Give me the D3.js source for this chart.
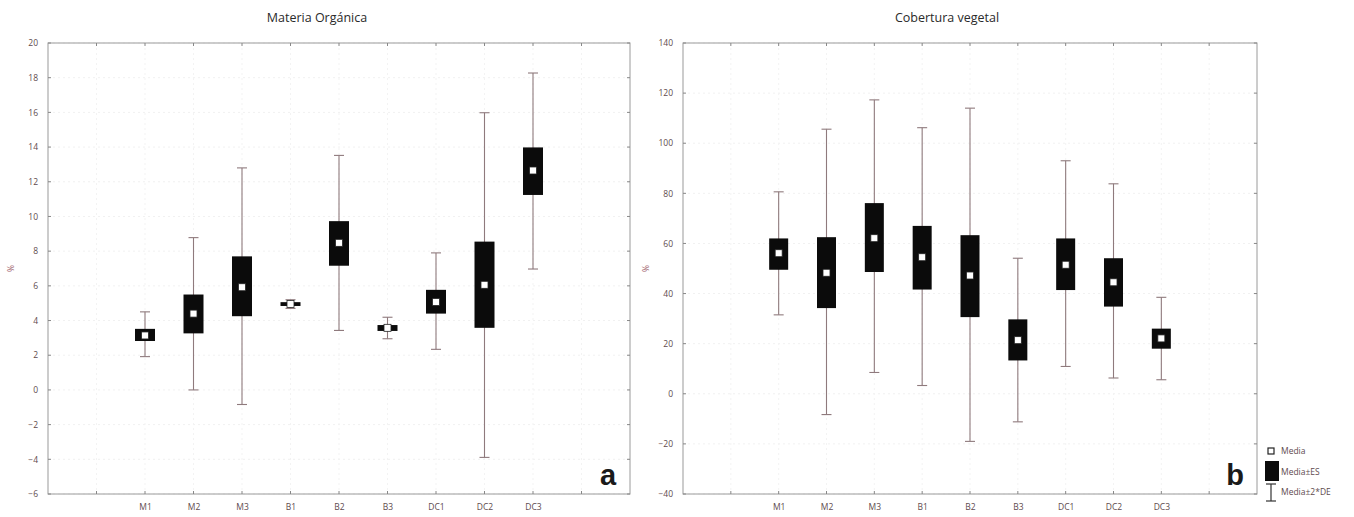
<!DOCTYPE html>
<html>
<head>
<meta charset="utf-8">
<script src="https://cdn.jsdelivr.net/npm/d3@7"></script>
<style>
  html, body { margin: 0; padding: 0; background: #fff; }
  svg text { font-family: "Open Sans", "Liberation Sans", sans-serif; }
</style>
</head>
<body>
<svg id="chart" width="1354" height="517"></svg>
<script>
// Sampling sites (same order in both panels)
const categories = ["M1", "M2", "M3", "B1", "B2", "B3", "DC1", "DC2", "DC3"];

// Materia orgánica (%): mean, mean±SE box, mean±2*SD whiskers
const moMean   = [3.14, 4.40, 5.92, 4.95, 8.48, 3.58, 5.07, 6.06, 12.65];
const moSeLow  = [2.82, 3.26, 4.25, 4.84, 7.16, 3.40, 4.40, 3.58, 11.24];
const moSeHigh = [3.52, 5.50, 7.70, 5.06, 9.73, 3.74, 5.77, 8.55, 13.98];
const moSdLow  = [1.92, 0.00, -0.84, 4.70, 3.43, 2.95, 2.34, -3.89, 6.97];
const moSdHigh = [4.50, 8.78, 12.80, 5.20, 13.52, 4.19, 7.90, 15.98, 18.27];
const moTicks  = [-6, -4, -2, 0, 2, 4, 6, 8, 10, 12, 14, 16, 18, 20];

// Cobertura vegetal (%)
const cvMean   = [56.1, 48.3, 62.1, 54.5, 47.2, 21.4, 51.5, 44.5, 22.1];
const cvSeLow  = [49.5, 34.2, 48.6, 41.6, 30.6, 13.3, 41.4, 34.8, 18.0];
const cvSeHigh = [62.0, 62.5, 76.1, 67.0, 63.3, 29.7, 62.0, 54.1, 26.0];
const cvSdLow  = [31.5, -8.3, 8.5, 3.3, -19.0, -11.2, 10.9, 6.3, 5.6];
const cvSdHigh = [80.6, 105.6, 117.3, 106.2, 114.0, 54.1, 93.0, 83.8, 38.5];
const cvTicks  = [-40, -20, 0, 20, 40, 60, 80, 100, 120, 140];

const legendLabels = ["Media", "Media±ES", "Media±2*DE"];

const svg = d3.select("#chart");
const labelColor = "#5e4a4e";
const whiskerColor = "#8f7a7d";
const frameColor = "#9a9a9a";

function panel(opts) {
  const { x0, x1, y0, y1, domain, ticks, title, titleX, letter,
          mean, seLo, seHi, sdLo, sdHi, boxW } = opts;
  const g = svg.append("g");
  // Category slots 1..11 on a 0..12 scale; sites occupy slots 2..10
  const x = d3.scaleLinear().domain([0, 12]).range([x0, x1]);
  const y = d3.scaleLinear().domain(domain).range([y1, y0]);
  const slot = i => x(i + 2);

  // faint grid
  g.append("g").selectAll("line").data(ticks).join("line")
    .attr("x1", x0).attr("x2", x1)
    .attr("y1", d => y(d)).attr("y2", d => y(d))
    .attr("stroke", "#f1f1f1").attr("stroke-dasharray", "2,3");
  g.append("g").selectAll("line").data(d3.range(1, 12)).join("line")
    .attr("x1", d => x(d)).attr("x2", d => x(d))
    .attr("y1", y0).attr("y2", y1)
    .attr("stroke", "#f3f3f3").attr("stroke-dasharray", "2,3");

  // axes (labels only; ticks drawn inward on the frame)
  const yAxis = d3.axisLeft(y).tickValues(ticks).tickSize(0).tickPadding(10);
  const ya = g.append("g").attr("transform", `translate(${x0},0)`).call(yAxis);
  ya.select(".domain").remove();
  ya.selectAll("text").attr("fill", labelColor).style("font-size", "8.5px");

  const xAxis = d3.axisBottom(x).tickValues(d3.range(2, 11))
    .tickFormat(d => categories[d - 2]).tickSize(0).tickPadding(10);
  const xa = g.append("g").attr("transform", `translate(0,${y1})`).call(xAxis);
  xa.select(".domain").remove();
  xa.selectAll("text").attr("fill", labelColor).style("font-size", "8.5px");

  // frame
  g.append("rect").attr("x", x0).attr("y", y0)
    .attr("width", x1 - x0).attr("height", y1 - y0)
    .attr("fill", "none").attr("stroke", frameColor).attr("stroke-width", 1);
  const tk = g.append("g").attr("stroke", "#888").attr("stroke-width", 1);
  d3.range(1, 12).forEach(d => {
    tk.append("line").attr("x1", x(d)).attr("x2", x(d)).attr("y1", y1).attr("y2", y1 - 3);
    tk.append("line").attr("x1", x(d)).attr("x2", x(d)).attr("y1", y0).attr("y2", y0 + 3);
  });
  ticks.forEach(d => {
    tk.append("line").attr("x1", x0).attr("x2", x0 + 3).attr("y1", y(d)).attr("y2", y(d));
    tk.append("line").attr("x1", x1).attr("x2", x1 - 3).attr("y1", y(d)).attr("y2", y(d));
  });

  // y-axis unit label
  g.append("text")
    .attr("transform", `translate(${x0 - 34},${(y0 + y1) / 2}) rotate(-90)`)
    .attr("text-anchor", "middle").attr("fill", "#9a5a66")
    .style("font-size", "8.5px").text("%");

  // title
  g.append("text").attr("x", titleX).attr("y", 22)
    .attr("text-anchor", "middle").attr("fill", "#2a2a2a")
    .style("font-size", "12.5px").text(title);

  // whiskers (mean ± 2 SD)
  const capW = 10;
  const w = g.append("g").attr("stroke", whiskerColor).attr("stroke-width", 1.1);
  categories.forEach((c, i) => {
    const cx = slot(i);
    w.append("line").attr("x1", cx).attr("x2", cx)
      .attr("y1", y(sdLo[i])).attr("y2", y(sdHi[i]));
    w.append("line").attr("x1", cx - capW / 2).attr("x2", cx + capW / 2)
      .attr("y1", y(sdLo[i])).attr("y2", y(sdLo[i]));
    w.append("line").attr("x1", cx - capW / 2).attr("x2", cx + capW / 2)
      .attr("y1", y(sdHi[i])).attr("y2", y(sdHi[i]));
  });

  // boxes (mean ± SE)
  g.append("g").selectAll("rect").data(categories).join("rect")
    .attr("x", (d, i) => slot(i) - boxW / 2)
    .attr("y", (d, i) => y(seHi[i]))
    .attr("width", boxW)
    .attr("height", (d, i) => Math.max(2.5, y(seLo[i]) - y(seHi[i])))
    .attr("fill", "#0b0b0b");

  // mean markers
  g.append("g").selectAll("rect").data(categories).join("rect")
    .attr("x", (d, i) => slot(i) - 3.5)
    .attr("y", (d, i) => y(mean[i]) - 3.5)
    .attr("width", 7).attr("height", 7)
    .attr("fill", "#fff").attr("stroke", "#222").attr("stroke-width", 0.8);

  // panel letter
  g.append("text").attr("x", x1 - 22).attr("y", y1 - 9)
    .attr("text-anchor", "middle").attr("fill", "#1a1a1a")
    .style("font-size", "29px").style("font-weight", "bold")
    .style("font-family", "'Liberation Sans', sans-serif")
    .text(letter);
}

panel({
  x0: 48, x1: 630, y0: 43, y1: 494, domain: [-6, 20], ticks: moTicks,
  title: "Materia Orgánica", titleX: 317, letter: "a",
  mean: moMean, seLo: moSeLow, seHi: moSeHigh, sdLo: moSdLow, sdHi: moSdHigh,
  boxW: 20
});

panel({
  x0: 683, x1: 1257, y0: 43, y1: 494, domain: [-40, 140], ticks: cvTicks,
  title: "Cobertura vegetal", titleX: 947, letter: "b",
  mean: cvMean, seLo: cvSeLow, seHi: cvSeHigh, sdLo: cvSdLow, sdHi: cvSdHigh,
  boxW: 19
});

// legend
const lg = svg.append("g");
lg.append("rect").attr("x", 1268).attr("y", 448).attr("width", 6).attr("height", 6)
  .attr("fill", "#fff").attr("stroke", "#222").attr("stroke-width", 1.2);
lg.append("rect").attr("x", 1265).attr("y", 461).attr("width", 14).attr("height", 20)
  .attr("fill", "#0b0b0b");
lg.append("line").attr("x1", 1271).attr("x2", 1271).attr("y1", 484).attr("y2", 501)
  .attr("stroke", "#333").attr("stroke-width", 1.2);
lg.append("line").attr("x1", 1266).attr("x2", 1276).attr("y1", 484).attr("y2", 484)
  .attr("stroke", "#333").attr("stroke-width", 1.2);
lg.append("line").attr("x1", 1266).attr("x2", 1276).attr("y1", 501).attr("y2", 501)
  .attr("stroke", "#333").attr("stroke-width", 1.2);
const legendY = [454, 475, 495];
lg.selectAll("text").data(legendLabels).join("text")
  .attr("x", 1281).attr("y", (d, i) => legendY[i])
  .attr("fill", labelColor).style("font-size", "8.5px").text(d => d);
</script>
</body>
</html>
